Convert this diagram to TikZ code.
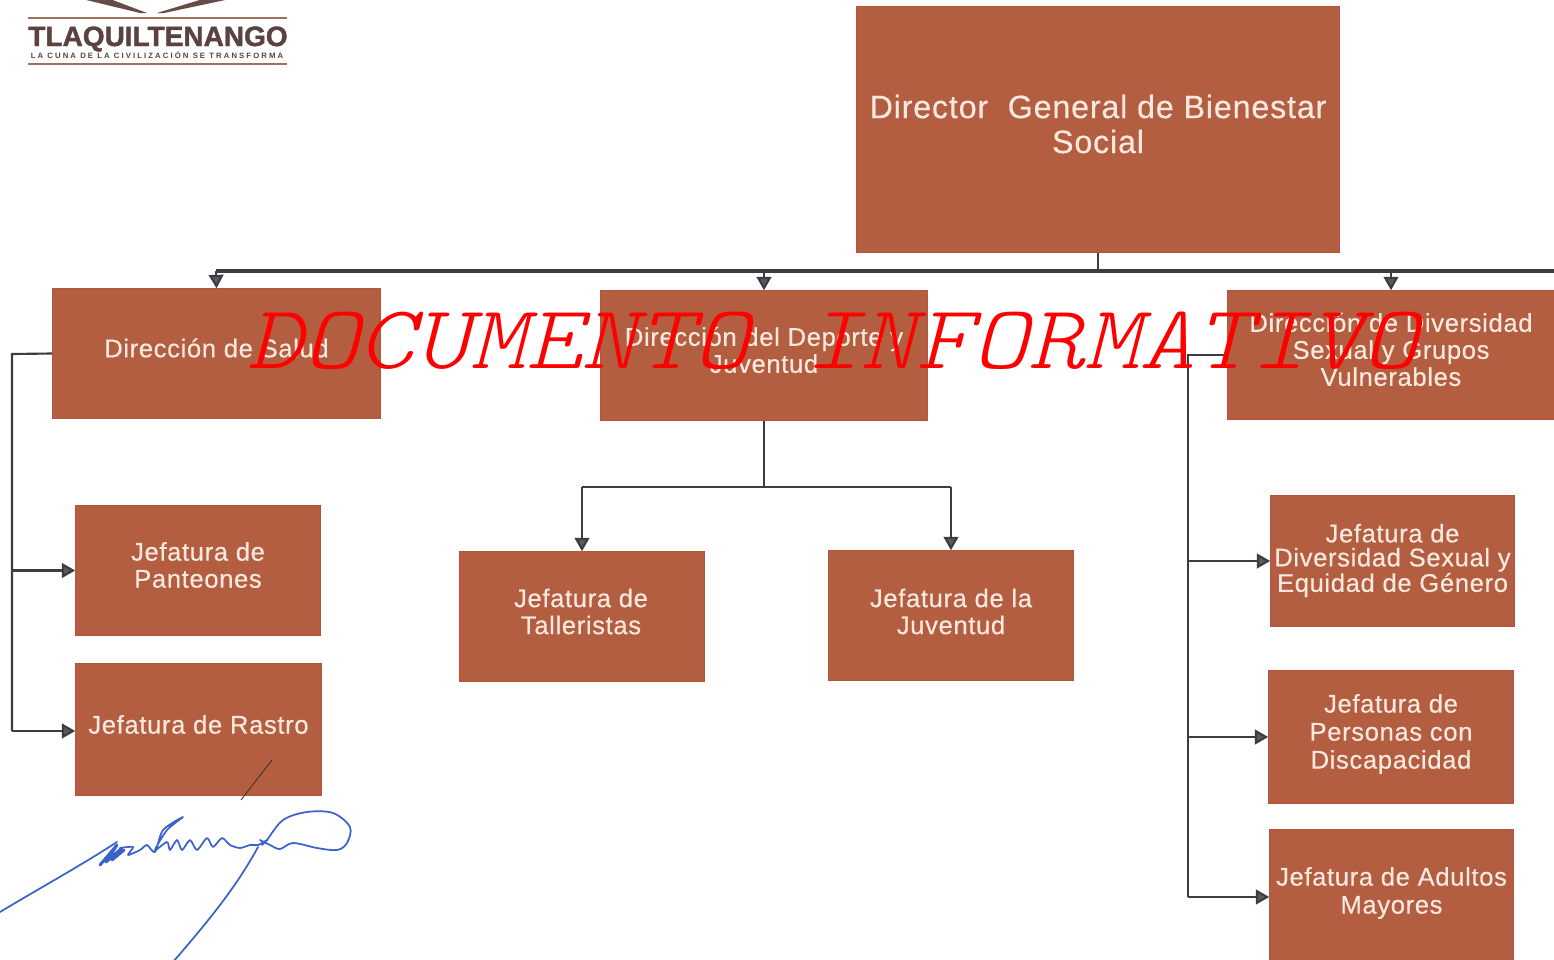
\documentclass[tikz,border=0pt]{standalone}
\usepackage{fontspec}
\setmainfont{Liberation Sans}
\newfontfamily\boxfont[LetterSpace=2.5,FakeBold=0.4]{Liberation Sans}
\newfontfamily\logofont[FakeBold=1.5]{Liberation Sans Bold}
\newfontfamily\tinyfont[LetterSpace=27]{Liberation Sans Bold}
\newfontfamily\stampfont[FakeSlant=0.22]{Latin Modern Mono Light}
\usetikzlibrary{arrows.meta,calc}
\definecolor{boxfill}{HTML}{B35E40}
\definecolor{boxedge}{HTML}{B8523A}
\definecolor{boxtext}{HTML}{F8E8DE}
\definecolor{linecol}{HTML}{3A3D42}
\definecolor{logocol}{HTML}{5A4240}
\definecolor{logobrown}{HTML}{A0705E}
\definecolor{signblue}{HTML}{3A62C8}
\tikzset{
  x=0.75pt,y=-0.75pt,
  orgbox/.style={draw=boxedge,line width=0.3pt,fill=boxfill},
  orgtext/.style={text=boxtext,align=center,inner sep=0pt},
  conn/.style={draw=linecol,line width=1.6pt},
  bus/.style={draw=linecol,line width=2.3pt},
  arrow/.style={conn,-{Triangle[length=10pt,width=11pt,fill=linecol!85!white]}},
  sign/.style={draw=signblue,line width=1.3pt,line cap=round,line join=round},
}
% name, box centre x y, width, height, text centre x y, line skip, text
\newcommand{\orgnode}[9]{%
  \node[orgbox,minimum width=#4*0.75pt-0.6pt,minimum height=#5*0.75pt-0.6pt] (#1) at (#2,#3) {};
  \node[orgtext,font=\boxfont\fontsize{19.2}{#8}\selectfont] (#1text) at (#6,#7) {#9};}
\begin{document}
\begin{tikzpicture}
\useasboundingbox (0,0) rectangle (1554,960);
\clip (0,0) rectangle (1554,960);
\fill[white] (0,0) rectangle (1554,960);

% logo
\fill[logocol!80!logobrown] (82,-1) -- (110,-1) -- (147,13) -- (140,13) -- cycle;
\fill[logocol!80!logobrown] (230,-1) -- (203,-1) -- (157,13) -- (164,13) -- cycle;
\draw[logobrown,line width=2pt] (28,18) -- (287,18);
\draw[logobrown,line width=2pt] (28,64) -- (287,64);
\node[text=logocol,inner sep=0pt,font=\logofont\fontsize{21}{22}\selectfont] (logoname) at (158,39) {TLAQUILTENANGO};
\node[text=logocol,inner sep=0pt,font=\tinyfont\fontsize{5.8}{6}\selectfont] (logotag) at (157,55) {LA CUNA DE LA CIVILIZACIÓN SE TRANSFORMA};

% boxes
\node[orgbox,minimum width=484*0.75pt-0.6pt,minimum height=247*0.75pt-0.6pt] (director) at (1098,129.5) {};
\node[orgtext,font=\boxfont\fontsize{24.2}{26.2}\selectfont] (directortext) at (1098,124) {Director\ \ General de Bienestar\\Social};
\orgnode{salud}{216.5}{353.5}{329}{131}{216.5}{348}{20}{Dirección de Salud}
\orgnode{deporte}{764}{355.5}{328}{131}{764}{350}{20.25}{Dirección del Deporte y\\Juventud}
\orgnode{diversidad}{1391}{355}{328}{130}{1391}{349.5}{20.25}{Dirección de Diversidad\\Sexual y Grupos\\Vulnerables}
\orgnode{panteones}{198}{570.5}{246}{131}{198}{565}{20.25}{Jefatura de\\Panteones}
\orgnode{rastro}{198.5}{729.5}{247}{133}{198.5}{724.5}{20}{Jefatura de Rastro}
\orgnode{talleristas}{582}{616.5}{246}{131}{581}{611.5}{20.25}{Jefatura de\\Talleristas}
\orgnode{juventud}{951}{615.5}{246}{131}{951}{611.5}{20.25}{Jefatura de la\\Juventud}
\orgnode{jefdiv}{1392.5}{561}{245}{132}{1392.5}{560.5}{18}{Jefatura de\\Diversidad Sexual y\\Equidad de Género}
\orgnode{personas}{1391}{737}{246}{134}{1391}{734}{21}{Jefatura de\\Personas con\\Discapacidad}
\orgnode{adultos}{1391.5}{897}{245}{136}{1391.5}{893}{21}{Jefatura de Adultos\\Mayores}

% general bus
\coordinate (busleft) at (216,271);
\coordinate (busright) at (1560,271);
\coordinate (busdrop) at (director.south |- busleft);
\draw[conn] (director.south) -- (busdrop);
\draw[bus] (busleft) -- (busright);
\draw[arrow] (busleft) -- (salud.north);
\draw[arrow] (deporte.north |- busleft) -- (deporte.north);
\draw[arrow] (diversidad.north |- busleft) -- (diversidad.north);

% salud branch
\coordinate (saludrail) at (12,354);
\coordinate (railend) at (12,731);
\draw[conn] (salud.west) -- (saludrail) -- (railend);
\draw[arrow] (railend) -- (railend -| rastro.west);
\draw[arrow] (saludrail |- panteones.west) -- (panteones.west);

% deporte branch
\coordinate (deporterail) at (deporte.south |- 0,487);
\draw[conn] (deporte.south) -- (deporterail);
\draw[conn] (talleristas.north |- deporterail) -- (juventud.north |- deporterail);
\draw[arrow] (talleristas.north |- deporterail) -- (talleristas.north);
\draw[arrow] (juventud.north |- deporterail) -- (juventud.north);

% diversidad branch
\coordinate (divrail) at (1188,355);
\coordinate (divend) at (1188,897);
\draw[conn] (diversidad.west) -- (divrail) -- (divend);
\draw[arrow] (divrail |- jefdiv.west) -- (jefdiv.west);
\draw[arrow] (divrail |- personas.west) -- (personas.west);
\draw[arrow] (divend) -- (adultos.west);

% pen marks
\draw[black!80,line width=0.6pt] (241,800) -- (272,760);
\draw[sign] (0,912) .. controls (40,888) and (80,866) .. (117,842);
\draw[sign,line width=2.2pt] plot coordinates {(100,865) (117,845) (106,862) (122,848) (112,860) (124,850)};
\draw[sign] plot[smooth,tension=0.45] coordinates {(120,848) (133,847) (128,855) (140,850) (147,845) (155,852) (163,830) (183,817) (167,830) (155,850) (167,842) (170,850) (177,840) (182,850) (190,840) (197,850) (207,838) (213,847) (222,838) (230,845) (240,848) (250,845) (258,845) (267,840)};
\draw[sign] plot[smooth,tension=0.55] coordinates {(262,845) (267,840) (283,820) (307,812) (333,813) (350,827) (347,843) (337,850) (317,848) (293,843) (280,849) (270,845) (260,840)};
\draw[sign] (258,847) .. controls (236,888) and (205,925) .. (173,962);

% watermark
\node[text=red,inner sep=0pt,font=\stampfont\fontsize{68}{68}\selectfont,xscale=1.172,transform shape] (stamp) at (833,341) {DOCUMENTO INFORMATIVO};
\end{tikzpicture}
\end{document}
